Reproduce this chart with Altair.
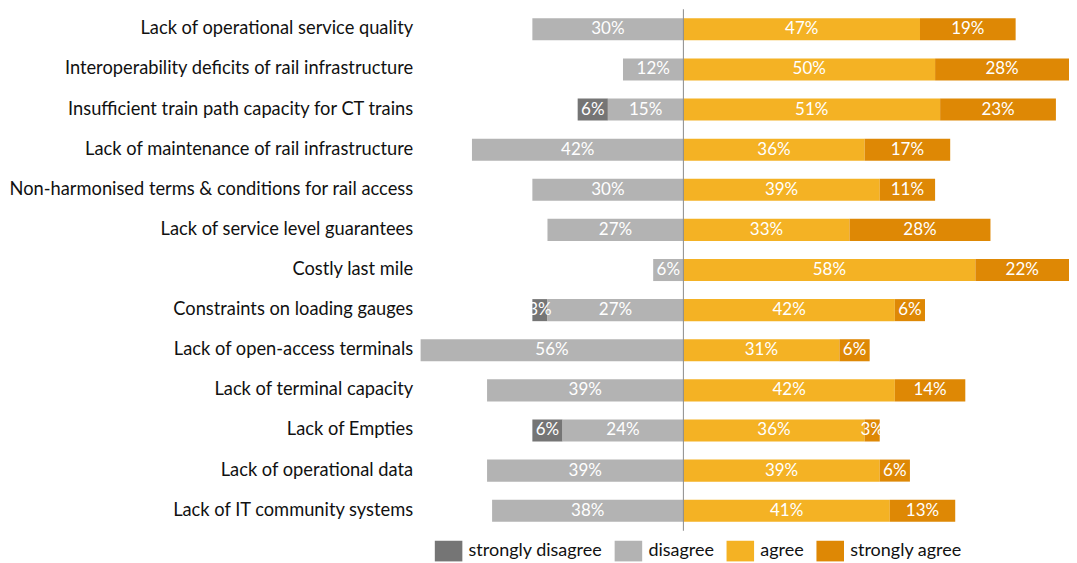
import altair as alt
import pandas as pd

categories = [
    "Lack of operational service quality",
    "Interoperability deficits of rail infrastructure",
    "Insufficient train path capacity for CT trains",
    "Lack of maintenance of rail infrastructure",
    "Non-harmonised terms & conditions for rail access",
    "Lack of service level guarantees",
    "Costly last mile",
    "Constraints on loading gauges",
    "Lack of open-access terminals",
    "Lack of terminal capacity",
    "Lack of Empties",
    "Lack of operational data",
    "Lack of IT community systems",
]
strongly_disagree = [0, 0, 6, 0, 0, 0, 0, 3, 0, 0, 6, 0, 0]
disagree = [30, 12, 15, 42, 30, 27, 6, 27, 56, 39, 24, 39, 38]
agree = [47, 50, 51, 36, 39, 33, 58, 42, 31, 42, 36, 39, 41]
strongly_agree = [19, 28, 23, 17, 11, 28, 22, 6, 6, 14, 3, 6, 13]

levels = ["strongly disagree", "disagree", "agree", "strongly agree"]
colors = ["#757575", "#b3b3b3", "#f4b224", "#de8805"]

X_MIN, X_MAX = -52.2, 76.6
FONT = "Lato"

rows = []
for i, cat in enumerate(categories):
    sd, d, a, sa = strongly_disagree[i], disagree[i], agree[i], strongly_agree[i]
    segs = [
        ("strongly disagree", -(d + sd), -d, sd),
        ("disagree", -d, 0, d),
        ("agree", 0, a, a),
        ("strongly agree", a, a + sa, sa),
    ]
    for lvl, s, e, v in segs:
        if v <= 0:
            continue
        cs, ce = max(s, X_MIN), min(e, X_MAX)
        rows.append({
            "category": cat, "level": lvl, "start": s, "end": e,
            "mid": (cs + ce) / 2, "label": f"{v}%",
        })
df = pd.DataFrame(rows)

y_enc = alt.Y(
    "category:N", sort=categories, title=None,
    scale=alt.Scale(paddingInner=0.45, paddingOuter=0.225),
    axis=alt.Axis(domain=False, ticks=False, labelFont=FONT, labelFontSize=18.3,
                  labelColor="#111111", labelPadding=8, labelLimit=600,
                  minExtent=412, maxExtent=412),
)
x_scale = alt.Scale(domain=[X_MIN, X_MAX], nice=False, zero=False)

bars = alt.Chart(df).mark_bar(clip=True).encode(
    x=alt.X("start:Q", scale=x_scale, axis=None),
    x2="end:Q",
    y=y_enc,
    color=alt.Color(
        "level:N",
        scale=alt.Scale(domain=levels, range=colors),
        legend=alt.Legend(
            title=None, orient="none", direction="horizontal",
            legendX=14, legendY=528, padding=0,
            symbolType="M-1,-0.75H1V0.75H-1Z", symbolSize=760,
            symbolStrokeWidth=0, symbolOpacity=1,
            labelFont=FONT, labelFontSize=18, labelColor="#111111",
            labelOffset=6, columnPadding=12,
        ),
    ),
)

texts = alt.Chart(df).mark_text(color="white", font=FONT, fontSize=17, baseline="middle").encode(
    x=alt.X("mid:Q", scale=x_scale, axis=None),
    y=alt.Y("category:N", sort=categories),
    text="label:N",
)

rule = alt.Chart(pd.DataFrame({"x": [0]})).mark_rule(color="#8a8a8a", strokeWidth=1).encode(
    x=alt.X("x:Q", scale=x_scale, axis=None)
)

chart = (
    alt.layer(bars, texts, rule)
    .properties(width=649, height=522, padding={"left": 0, "top": 0, "right": 0, "bottom": 0})
    .configure_view(stroke=None)
)

chart.save("out.html", embed_options={"renderer": "svg", "actions": False})
